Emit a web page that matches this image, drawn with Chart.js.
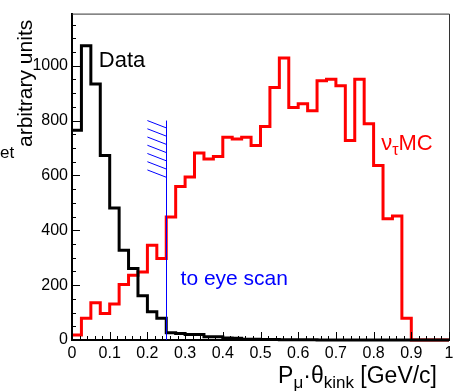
<!DOCTYPE html>
<html>
<head>
<meta charset="utf-8">
<script src="https://cdn.jsdelivr.net/npm/chart.js@4.4.1/dist/chart.umd.min.js"></script>
<style>
  html, body { margin: 0; padding: 0; background: #fff; }
  #wrap { width: 462px; height: 392px; position: relative; }
</style>
</head>
<body>
<div id="wrap"><canvas id="c" width="462" height="392"></canvas></div>
<script>
// ── DATOS ────────────────────────────────────────────────────────────────
// bordes de bin (0.025 GeV/c)
var BIN_EDGES = [0, 0.025, 0.05, 0.075, 0.1, 0.125, 0.15, 0.175, 0.2, 0.225,
                 0.25, 0.275, 0.3, 0.325, 0.35, 0.375, 0.4, 0.425, 0.45, 0.475,
                 0.5, 0.525, 0.55, 0.575, 0.6, 0.625, 0.65, 0.675, 0.7, 0.725,
                 0.75, 0.775, 0.8, 0.825, 0.85, 0.875, 0.9, 0.925, 0.95, 0.975, 1.0];

var DATA_COUNTS = [765, 1073, 933, 673, 481, 327, 261, 161, 103, 79,
                   26, 24, 20, 20, 12, 12, 7, 6, 3, 3,
                   2, 2, 1, 1, 1, 1, 0, 0, 0, 0,
                   0, 0, 0, 0, 0, 0, 0, 0, 0, 0];

var MC_COUNTS = [18, 79, 136, 97, 131, 202, 236, 248, 345, 297,
                 448, 560, 594, 682, 660, 669, 739, 733, 739, 709,
                 778, 921, 1028, 848, 861, 836, 945, 951, 927, 727,
                 951, 788, 636, 442, 452, 79, 0, 0, 0, 0];

var X_TICKS       = [0, 0.1, 0.2, 0.3, 0.4, 0.5, 0.6, 0.7, 0.8, 0.9, 1];
var X_TICK_LABELS = ['0', '0.1', '0.2', '0.3', '0.4', '0.5', '0.6', '0.7', '0.8', '0.9', '1'];
var Y_TICKS       = [0, 200, 400, 600, 800, 1000];
var Y_MAX         = 1190;

// corte "to eye scan"
var CUT_X     = 0.25;
var CUT_TOP   = 800;
var HATCH_X0  = 0.2;

var FONT = '"Liberation Sans", Arial, Helvetica, sans-serif';

// ── HELPERS ──────────────────────────────────────────────────────────────
function histPoints(counts) {
  var pts = counts.map(function(v, i) { return { x: BIN_EDGES[i], y: v }; });
  pts.push({ x: BIN_EDGES[counts.length], y: counts[counts.length - 1] });
  return pts;
}

// dibuja texto con sub-indices: runs = [[texto, size, dy]]
function drawRuns(ctx, runs, x, y, align, color) {
  ctx.fillStyle = color;
  ctx.textBaseline = 'alphabetic';
  ctx.textAlign = 'left';
  var total = 0;
  runs.forEach(function(r) { ctx.font = r[1] + 'px ' + FONT; total += ctx.measureText(r[0]).width; });
  var cx = align === 'right' ? x - total : x;
  runs.forEach(function(r) {
    ctx.font = r[1] + 'px ' + FONT;
    ctx.fillText(r[0], cx, y + (r[2] || 0));
    cx += ctx.measureText(r[0]).width;
  });
}

// ── PLUGIN: marco, ticks, corte y textos ─────────────────────────────────
var rootStyle = {
  id: 'rootStyle',
  afterDatasetsDraw: function(chart) {
    var ctx = chart.ctx, a = chart.chartArea;
    var sx = chart.scales.x, sy = chart.scales.y;
    ctx.save();

    // marco fino arriba/derecha
    ctx.strokeStyle = '#333';
    ctx.lineWidth = 1;
    ctx.beginPath();
    ctx.moveTo(a.left, a.top + 0.5); ctx.lineTo(a.right + 0.5, a.top + 0.5);
    ctx.lineTo(a.right + 0.5, a.bottom);
    ctx.stroke();

    // ticks hacia dentro
    ctx.strokeStyle = '#000';
    ctx.lineWidth = 1;
    ctx.beginPath();
    var i, v, p;
    for (i = 0; i <= 50; i++) {
      v = i * 0.02;
      p = Math.round(sx.getPixelForValue(v)) + 0.5;
      var len = (i % 5 === 0) ? 8 : 4;
      ctx.moveTo(p, a.bottom); ctx.lineTo(p, a.bottom - len);
    }
    for (v = 0; v <= Y_MAX; v += 50) {
      p = Math.round(sy.getPixelForValue(v)) + 0.5;
      var ly = (v % 200 === 0) ? 8 : 4;
      ctx.moveTo(a.left, p); ctx.lineTo(a.left + ly, p);
    }
    ctx.stroke();

    // linea de corte + rayado
    ctx.strokeStyle = '#0000ff';
    ctx.lineWidth = 1;
    ctx.beginPath();
    var cx = Math.round(sx.getPixelForValue(CUT_X)) + 0.5;
    ctx.moveTo(cx, sy.getPixelForValue(0));
    ctx.lineTo(cx, sy.getPixelForValue(CUT_TOP));
    for (i = 0; i < 7; i++) {
      ctx.moveTo(sx.getPixelForValue(HATCH_X0), sy.getPixelForValue(CUT_TOP - 30 * i));
      ctx.lineTo(cx, sy.getPixelForValue(CUT_TOP - 27 - 30 * i));
    }
    ctx.stroke();

    // etiquetas
    drawRuns(ctx, [['Data', 22]], sx.getPixelForValue(0.071), sy.getPixelForValue(996), 'left', '#000');
    drawRuns(ctx, [['to eye scan', 21]], sx.getPixelForValue(0.288), sy.getPixelForValue(201), 'left', '#0000ff');
    drawRuns(ctx, [['\u03bd', 22], ['\u03c4', 16, 5], ['MC', 22]],
             sx.getPixelForValue(0.82), sy.getPixelForValue(694), 'left', '#ff0000');

    // titulo eje x
    drawRuns(ctx, [['P', 23], ['\u03bc', 17, 5], ['\u00b7\u03b8', 23], ['kink', 17, 5], [' [GeV/c]', 23]],
             437, 383, 'right', '#000');

    // titulo eje y (rotado)
    ctx.save();
    ctx.translate(32, 147);
    ctx.rotate(-Math.PI / 2);
    drawRuns(ctx, [['arbitrary units', 21]], 0, 0, 'left', '#000');
    ctx.restore();
    drawRuns(ctx, [['et', 17]], 0, 158, 'left', '#000');

    ctx.restore();
  }
};

// ── CHART ────────────────────────────────────────────────────────────────
var chart = new Chart(document.getElementById('c').getContext('2d'), {
  type: 'line',
  data: {
    datasets: [{
      label: 'Data',
      data: histPoints(DATA_COUNTS),
      borderColor: '#000',
      borderWidth: 3,
      stepped: 'before',
      pointRadius: 0,
      fill: false,
      clip: 6
    }, {
      label: 'nu_tau MC',
      data: histPoints(MC_COUNTS),
      borderColor: '#ff0000',
      borderWidth: 3,
      stepped: 'before',
      pointRadius: 0,
      fill: false,
      clip: 6
    }]
  },
  options: {
    responsive: false,
    animation: false,
    layout: { padding: { top: 13, right: 13, left: 0, bottom: 0 } },
    plugins: { legend: { display: false }, tooltip: { enabled: false } },
    scales: {
      x: {
        type: 'linear', min: 0, max: 1,
        grid: { display: false, drawTicks: false },
        border: { display: true, color: '#000', width: 2 },
        afterBuildTicks: function(s) { s.ticks = X_TICKS.map(function(v) { return { value: v }; }); },
        afterFit: function(s) { s.height = 52; },
        ticks: {
          autoSkip: false, maxRotation: 0, padding: 4, color: '#000',
          font: { family: FONT, size: 16 },
          callback: function(v) { var k = X_TICKS.indexOf(v); return k >= 0 ? X_TICK_LABELS[k] : ''; }
        }
      },
      y: {
        type: 'linear', min: 0, max: Y_MAX,
        grid: { display: false, drawTicks: false },
        border: { display: true, color: '#000', width: 2 },
        afterBuildTicks: function(s) { s.ticks = Y_TICKS.map(function(v) { return { value: v }; }); },
        afterFit: function(s) { s.width = 72; },
        ticks: {
          autoSkip: false, padding: 4, color: '#000',
          font: { family: FONT, size: 16 },
          callback: function(v) { return String(v); }
        }
      }
    }
  },
  plugins: [rootStyle]
});
</script>
</body>
</html>
